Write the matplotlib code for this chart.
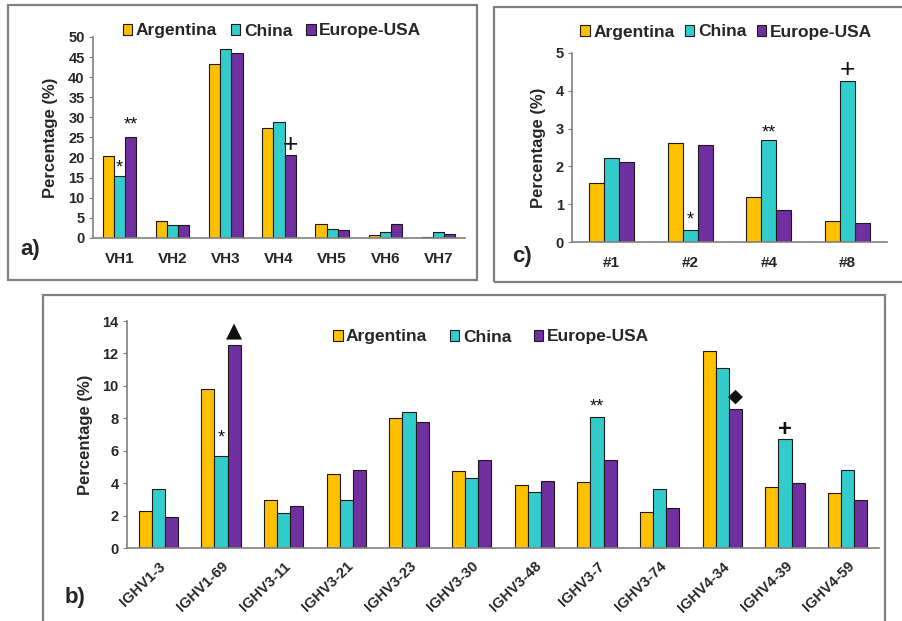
import numpy as np
import matplotlib.pyplot as plt
from matplotlib.patches import Rectangle

plt.rcParams['font.family'] = ['Liberation Sans', 'DejaVu Sans']
plt.rcParams['font.weight'] = 'bold'

# Panel a) VH families
fam_labels = ["VH1", "VH2", "VH3", "VH4", "VH5", "VH6", "VH7"]
fam_arg = [20.3, 4.2, 43.2, 27.4, 3.4, 0.8, 0.3]
fam_chn = [15.5, 3.3, 46.9, 28.8, 2.2, 1.6, 1.6]
fam_eu = [25.2, 3.3, 46.1, 20.6, 1.9, 3.4, 0.9]

# Panel b) IGHV genes
gene_labels = ["IGHV1-3", "IGHV1-69", "IGHV3-11", "IGHV3-21", "IGHV3-23", "IGHV3-30",
               "IGHV3-48", "IGHV3-7", "IGHV3-74", "IGHV4-34", "IGHV4-39", "IGHV4-59"]
gene_arg = [2.26, 9.78, 2.94, 4.57, 8.01, 4.74, 3.87, 4.10, 2.24, 12.17, 3.79, 3.40]
gene_chn = [3.64, 5.68, 2.16, 2.94, 8.38, 4.30, 3.44, 8.09, 3.64, 11.12, 6.75, 4.80]
gene_eu = [1.89, 12.52, 2.59, 4.80, 7.80, 5.41, 4.16, 5.41, 2.47, 8.59, 4.01, 2.94]

# Panel c) stereotyped subsets
sub_labels = ["#1", "#2", "#4", "#8"]
sub_arg = [1.57, 2.63, 1.18, 0.56]
sub_chn = [2.23, 0.32, 2.69, 4.27]
sub_eu = [2.11, 2.57, 0.85, 0.50]

names = ["Argentina", "China", "Europe-USA"]
colors = ["#FFC000", "#33CCCC", "#7030A0"]
txt = "#262626"
grey = "#808080"

W, H = 902, 621


def frac(l, t, r, b):
    return [l / W, 1 - b / H, (r - l) / W, (b - t) / H]


fig = plt.figure(figsize=(9.02, 6.21), dpi=100)

# panel frames
for l, t, r, b in [(8, 5, 477, 280), (494, 7, 905, 282), (43, 295, 885, 630)]:
    fig.patches.append(Rectangle((l / W, 1 - b / H), (r - l) / W, (b - t) / H,
                                 transform=fig.transFigure, fill=False,
                                 edgecolor=grey, lw=1.6))


def bars(ax, cats, series, ymax, step, bw=0.21):
    x = np.arange(len(cats))
    conts = []
    for i, (vals, c) in enumerate(zip(series, colors)):
        conts.append(ax.bar(x + (i - 1) * bw, vals, bw, color=c,
                            edgecolor="#1a1a1a", linewidth=0.8, label=names[i]))
    ax.set_xlim(-0.5, len(cats) - 0.5)
    ax.set_ylim(0, ymax)
    ax.set_yticks(np.arange(0, ymax + 0.001, step))
    ax.set_xticks(x)
    for s in ["top", "right"]:
        ax.spines[s].set_visible(False)
    for s in ["left", "bottom"]:
        ax.spines[s].set_color(grey)
        ax.spines[s].set_linewidth(1.2)
    ax.tick_params(axis="y", length=3, color=grey, labelsize=10.5, labelcolor=txt, pad=3)
    ax.tick_params(axis="x", length=0, labelcolor=txt, pad=10)
    ax.set_ylabel("Percentage (%)", fontsize=12, fontweight="bold", color=txt, labelpad=7)
    return conts


def mark(ax, cont, idx, sym, dy_px, size=12, family=None, weight="normal"):
    r = cont[idx]
    kw = {}
    if family:
        kw["family"] = family
    ax.annotate(sym, (r.get_x() + r.get_width() / 2, r.get_height()),
                xytext=(0, dy_px * 0.72), textcoords="offset points",
                ha="center", va="center", fontsize=size, color="#111111",
                fontweight=weight, **kw)


# ---- a)
axa = fig.add_axes(frac(93, 37, 465, 238))
ca = bars(axa, fam_labels, [fam_arg, fam_chn, fam_eu], 50, 5)
axa.set_xticklabels(fam_labels, fontsize=11)
mark(axa, ca[1], 0, "*", 8, size=13)
mark(axa, ca[2], 0, "**", 12, size=13)
mark(axa, ca[2], 3, "+", 10, size=19)
axa.legend(loc="center", bbox_to_anchor=(272 / W, 1 - 31 / H), bbox_transform=fig.transFigure,
           ncol=3, frameon=False, fontsize=12.5, handlelength=0.55, handleheight=0.55,
           handletextpad=0.2, columnspacing=0.8, labelcolor=txt)
fig.text(20 / W, 1 - 250 / H, "a)", fontsize=16, color=txt, va="center")

# ---- c)
axc = fig.add_axes(frac(572, 53, 887, 242))
cc = bars(axc, sub_labels, [sub_arg, sub_chn, sub_eu], 5, 1, bw=0.19)
axc.set_xticklabels(sub_labels, fontsize=11)
mark(axc, cc[1], 1, "*", 10, size=13)
mark(axc, cc[1], 2, "**", 7, size=13)
mark(axc, cc[1], 3, "+", 11, size=19)
axc.legend(loc="center", bbox_to_anchor=(726 / W, 1 - 32 / H), bbox_transform=fig.transFigure,
           ncol=3, frameon=False, fontsize=12.5, handlelength=0.55, handleheight=0.55,
           handletextpad=0.2, columnspacing=0.6, labelcolor=txt)
fig.text(512 / W, 1 - 256 / H, "c)", fontsize=16, color=txt, va="center")

# ---- b)
axb = fig.add_axes(frac(127, 321, 879, 548))
cb = bars(axb, gene_labels, [gene_arg, gene_chn, gene_eu], 14, 2)
axb.set_xticklabels(gene_labels, fontsize=10.5, rotation=44, ha="right",
                    rotation_mode="anchor")
axb.tick_params(axis="x", pad=8)
mark(axb, cb[2], 1, "\u25B2", 14, size=15, family="DejaVu Sans")
mark(axb, cb[1], 1, "*", 18, size=13)
mark(axb, cb[1], 7, "**", 10, size=13)
mark(axb, cb[2], 9, "\u25C6", 13, size=14, family="DejaVu Sans")
mark(axb, cb[1], 10, "+", 9, size=17, weight="bold")
axb.legend(loc="center", bbox_to_anchor=(491 / W, 1 - 337 / H), bbox_transform=fig.transFigure,
           ncol=3, frameon=False, fontsize=12.5, handlelength=0.55, handleheight=0.55,
           handletextpad=0.2, columnspacing=1.3, labelcolor=txt)
fig.text(65 / W, 1 - 598 / H, "b)", fontsize=16, color=txt, va="center")

fig.savefig("out.png", dpi=100)
